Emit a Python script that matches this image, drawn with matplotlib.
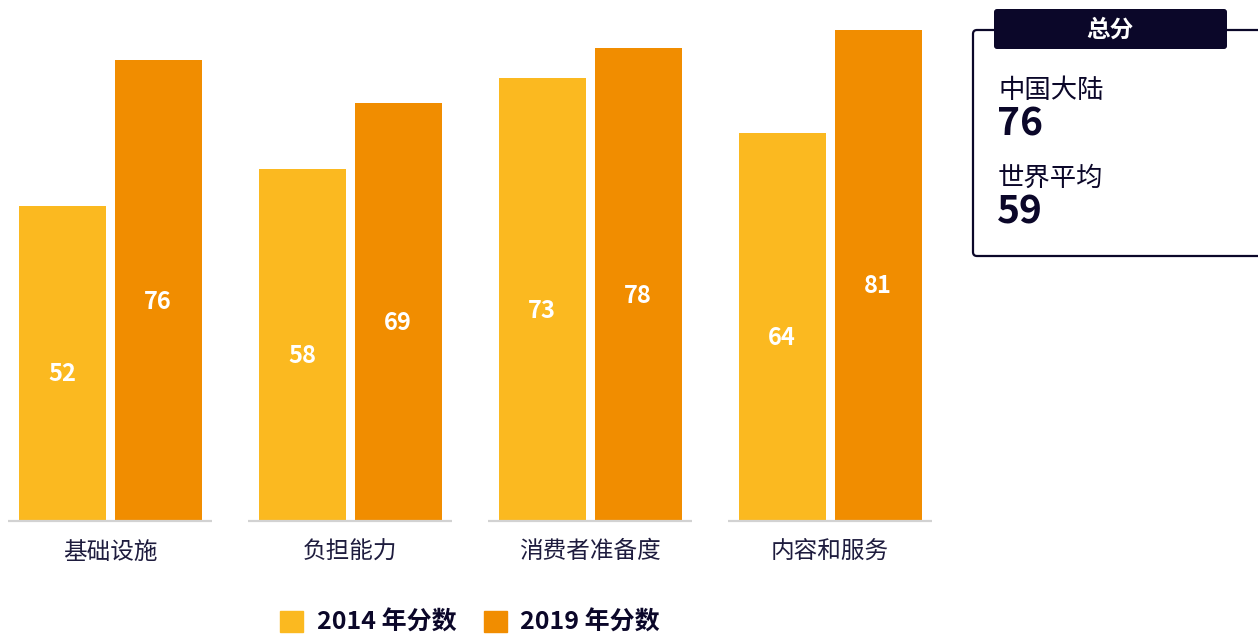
import matplotlib
matplotlib.use("Agg")
import matplotlib.pyplot as plt
from matplotlib.patches import FancyBboxPatch, Patch
import numpy as np

plt.rcParams['font.family'] = ['Noto Sans CJK SC', 'DejaVu Sans']

categories = ["基础设施", "负担能力", "消费者准备度", "内容和服务"]
scores_2014 = [52, 58, 73, 64]
scores_2019 = [76, 69, 78, 81]
series_labels = ["2014 年分数", "2019 年分数"]
panel_title = "总分"
panel_items = ["中国大陆", "世界平均"]
panel_values = [76, 59]

W, H = 1258, 637
fig = plt.figure(figsize=(W / 100, H / 100), dpi=100)

c14 = "#FBB920"
c19 = "#F18D00"
navy = "#0B0729"
txt = "#1E1C3E"

# main axes: pixel x 0..960, y from top 0..521
base_px = 521
ax = fig.add_axes([0, (H - base_px) / H, 960 / W, base_px / H])
ppu = 6.065
ax.set_xlim(-110 / 240, (960 - 110) / 240)
ax.set_ylim(0, base_px / ppu)
ax.axis("off")

x = np.arange(len(categories))
off = 0.2
bw = 0.3625
b1 = ax.bar(x - off, scores_2014, bw, color=c14, zorder=2)
b2 = ax.bar(x + off, scores_2019, bw, color=c19, zorder=2)
for xi in x:
    ax.plot([xi - 0.425, xi + 0.425], [0, 0], color="#D2D2D2", lw=1.6,
            zorder=3, clip_on=False, solid_capstyle="butt")

for bars, vals in ((b1, scores_2014), (b2, scores_2019)):
    for r, v in zip(bars, vals):
        ax.annotate(str(v), (r.get_x() + r.get_width() / 2, v / 2),
                    xytext=(0, -8), textcoords="offset points",
                    ha="center", va="center", color="white",
                    fontsize=17, fontweight="bold", zorder=4)

for xi, c in zip(x, categories):
    ax.annotate(c, (xi, 0), xytext=(0, -(552 - base_px) * 0.72),
                textcoords="offset points", ha="center", va="center",
                fontsize=17, color=txt, annotation_clip=False)

# overlay axes in pixel coords for the side panel
ov = fig.add_axes([0, 0, 1, 1])
ov.set_xlim(0, W)
ov.set_ylim(H, 0)
ov.axis("off")

box = FancyBboxPatch((973, 30), 330, 226, boxstyle="round,pad=0,rounding_size=4",
                     fc="white", ec=navy, lw=1.6, zorder=1)
ov.add_patch(box)
hdr = FancyBboxPatch((994, 9), 233, 40, boxstyle="round,pad=0,rounding_size=3",
                     fc=navy, ec=navy, lw=0, zorder=2)
ov.add_patch(hdr)
ov.text(1110, 30, panel_title, ha="center", va="center", color="white",
        fontsize=17, fontweight="bold", zorder=3)

ys_lab = [90, 178]
ys_val = [124, 212]
for name, val, yl, yv in zip(panel_items, panel_values, ys_lab, ys_val):
    ov.text(998, yl, name, ha="left", va="center", color=navy, fontsize=19,
            zorder=3)
    ov.text(997, yv, str(val), ha="left", va="center", color=navy,
            fontsize=28, fontweight="bold", zorder=3)

handles = [Patch(color=c14), Patch(color=c19)]
fig.legend(handles, series_labels, loc="center",
           bbox_to_anchor=(470 / W, (H - 623) / H), ncol=2, frameon=False,
           handlelength=0.92, handleheight=0.92, handletextpad=0.55,
           columnspacing=1.1, borderpad=0, borderaxespad=0,
           prop={"weight": "bold", "size": 18})
for t in fig.legends[0].get_texts():
    t.set_color(navy)

fig.savefig("out.png", dpi=100)
